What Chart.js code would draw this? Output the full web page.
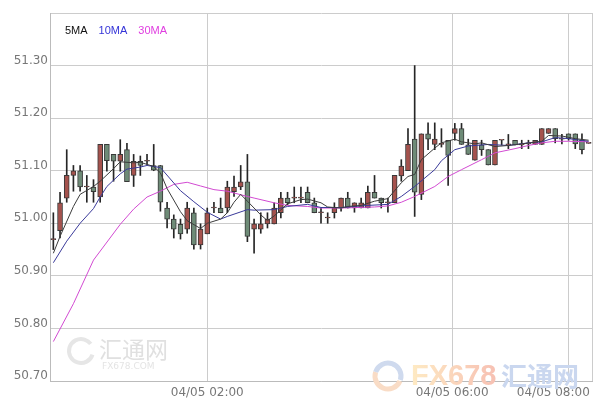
<!DOCTYPE html>
<html>
<head>
<meta charset="utf-8">
<script src="https://cdn.jsdelivr.net/npm/chart.js@4.4.1/dist/chart.umd.min.js"></script>
<style>
  html, body { margin: 0; padding: 0; background: #fff; }
  #wrap { width: 600px; height: 410px; }
</style>
</head>
<body>
<div id="wrap"><canvas id="kline"></canvas></div>
<script>
// one candle per bar, oldest first (x = bar index)
const opens = [50.969, 50.986, 51.048, 51.091, 51.100, 51.069, 51.069, 51.050, 51.150, 51.131,
  51.118, 51.140, 51.091, 51.118, 51.118, 51.110, 51.110, 51.029, 51.008, 50.998,
  50.989, 51.020, 50.959, 50.980, 51.029, 51.029, 51.029, 51.060, 51.069, 51.079,
  50.989, 50.989, 50.999, 50.999, 51.020, 51.048, 51.048, 51.048, 51.059, 51.039,
  51.020, 51.010, 51.020, 51.029, 51.048, 51.029, 51.029, 51.029, 51.059, 51.048,
  51.039, 51.039, 51.090, 51.100, 51.160, 51.055, 51.170, 51.150, 51.150, 51.158,
  51.171, 51.180, 51.149, 51.120, 51.149, 51.140, 51.111, 51.158, 51.149, 51.158,
  51.149, 51.151, 51.150, 51.150, 51.171, 51.180, 51.160, 51.170, 51.170, 51.158,
  51.152];
const highs = [51.020, 51.059, 51.140, 51.110, 51.110, 51.091, 51.083, 51.150, 51.150, 51.131,
  51.159, 51.152, 51.131, 51.128, 51.131, 51.150, 51.110, 51.040, 51.016, 51.008,
  51.040, 51.029, 50.999, 51.029, 51.040, 51.048, 51.080, 51.090, 51.110, 51.131,
  51.008, 51.020, 51.020, 51.039, 51.059, 51.059, 51.069, 51.069, 51.069, 51.048,
  51.029, 51.020, 51.039, 51.048, 51.059, 51.039, 51.048, 51.071, 51.091, 51.048,
  51.048, 51.091, 51.121, 51.180, 51.300, 51.170, 51.191, 51.191, 51.180, 51.158,
  51.190, 51.190, 51.160, 51.158, 51.158, 51.140, 51.158, 51.158, 51.169, 51.158,
  51.158, 51.158, 51.158, 51.180, 51.180, 51.180, 51.169, 51.170, 51.170, 51.170,
  51.152];
const lows = [50.950, 50.972, 51.040, 51.061, 51.061, 51.040, 51.040, 51.040, 51.099, 51.080,
  51.099, 51.079, 51.070, 51.091, 51.112, 51.100, 51.023, 50.991, 50.972, 50.970,
  50.981, 50.951, 50.951, 50.980, 51.020, 51.020, 51.020, 51.051, 51.064, 50.965,
  50.943, 50.981, 50.991, 50.999, 51.010, 51.035, 51.039, 51.039, 51.039, 51.020,
  51.000, 51.000, 51.010, 51.023, 51.029, 51.021, 51.029, 51.029, 51.048, 51.029,
  51.021, 51.039, 51.080, 51.100, 51.013, 51.045, 51.140, 51.140, 51.145, 51.072,
  51.158, 51.150, 51.131, 51.120, 51.129, 51.111, 51.111, 51.149, 51.142, 51.149,
  51.142, 51.142, 51.150, 51.150, 51.171, 51.153, 51.151, 51.158, 51.142, 51.132,
  51.152];
const closes = [50.969, 51.039, 51.091, 51.100, 51.069, 51.069, 51.060, 51.150, 51.119, 51.118,
  51.131, 51.079, 51.118, 51.110, 51.118, 51.101, 51.040, 51.008, 50.989, 50.980,
  51.029, 50.959, 50.989, 51.020, 51.029, 51.020, 51.069, 51.069, 51.079, 50.975,
  50.999, 50.999, 51.008, 51.029, 51.048, 51.039, 51.048, 51.048, 51.039, 51.020,
  51.020, 51.010, 51.029, 51.048, 51.029, 51.039, 51.039, 51.059, 51.048, 51.039,
  51.039, 51.091, 51.109, 51.150, 51.059, 51.170, 51.160, 51.160, 51.150, 51.129,
  51.180, 51.150, 51.131, 51.158, 51.140, 51.111, 51.158, 51.158, 51.149, 51.149,
  51.149, 51.151, 51.158, 51.180, 51.180, 51.161, 51.160, 51.161, 51.151, 51.140,
  51.152];

// moving averages: [bar index, value]
const ma5 = [[0, 50.943], [1, 50.975], [3, 51.032], [4, 51.055], [6, 51.070], [7, 51.080], [9, 51.104],
  [10, 51.117], [12, 51.115], [13, 51.116], [14, 51.112], [15, 51.108], [16, 51.096], [17, 51.066],
  [19, 51.022], [20, 51.005], [22, 50.990], [23, 51.000], [25, 51.008], [26, 51.020], [27, 51.040],
  [28, 51.055], [29, 51.042], [31, 51.016], [32, 51.005], [33, 51.014], [35, 51.037], [37, 51.045],
  [38, 51.046], [40, 51.039], [41, 51.031], [43, 51.029], [44, 51.032], [46, 51.034], [48, 51.042],
  [50, 51.047], [52, 51.077], [53, 51.089], [54, 51.093], [55, 51.121], [56, 51.132], [57, 51.143],
  [58, 51.153], [60, 51.160], [61, 51.155], [63, 51.151], [64, 51.153], [66, 51.146], [68, 51.148],
  [70, 51.151], [73, 51.156], [74, 51.167], [76, 51.166], [78, 51.161], [80, 51.158]];
const ma10 = [[0, 50.925], [2, 50.966], [4, 51.000], [6, 51.028], [7, 51.050], [8, 51.070], [10, 51.094],
  [11, 51.103], [13, 51.107], [14, 51.110], [16, 51.106], [19, 51.062], [21, 51.041], [23, 51.021],
  [25, 51.008], [26, 51.013], [29, 51.026], [30, 51.025], [33, 51.026], [35, 51.032], [38, 51.036],
  [40, 51.030], [43, 51.030], [47, 51.034], [50, 51.036], [52, 51.051], [54, 51.070], [57, 51.102],
  [58, 51.119], [60, 51.140], [62, 51.147], [65, 51.150], [68, 51.148], [71, 51.153], [73, 51.155],
  [75, 51.163], [77, 51.161], [80, 51.156]];
const ma30 = [[0, 50.775], [3, 50.847], [6, 50.930], [10, 50.998], [12, 51.027], [14, 51.050], [16, 51.061],
  [18, 51.074], [20, 51.078], [22, 51.071], [24, 51.064], [26, 51.061], [29, 51.051], [30, 51.048],
  [33, 51.039], [35, 51.034], [38, 51.032], [40, 51.029], [43, 51.029], [48, 51.031], [50, 51.033],
  [52, 51.040], [54, 51.051], [57, 51.070], [59, 51.089], [61, 51.102], [64, 51.121], [66, 51.134],
  [69, 51.142], [71, 51.148], [73, 51.153], [75, 51.156], [77, 51.156], [80, 51.155]];

// time ticks sit at bar positions (06:00 falls between two bars)
const tickPos = [23, 59.6, 77];
const tickLabels = ['04/05 02:00', '04/05 06:00', '04/05 08:00'];

const UP = '#a5524d';
const DOWN = '#6e8b77';
const axisFont = { family: 'DejaVu Sans', size: 12 };

// 5MA / 10MA / 30MA captions in the top-left corner of the plot
const maLegend = {
  id: 'maLegend',
  afterDraw(chart) {
    const { ctx, chartArea } = chart;
    ctx.save();
    ctx.font = '11px "Liberation Sans Narrow", "Liberation Sans", sans-serif';
    ctx.textBaseline = 'middle';
    let x = chartArea.left + 15;
    chart.data.datasets.filter((d) => d.legendColor).forEach((d) => {
      ctx.fillStyle = d.legendColor;
      ctx.fillText(d.label, x, chartArea.top + 18);
      x += ctx.measureText(d.label).width + 11;
    });
    ctx.restore();
  },
};

// faint site watermarks
const watermark = {
  id: 'watermark',
  beforeDatasetsDraw(chart) {
    const { ctx } = chart;
    ctx.save();
    ctx.lineWidth = 4;
    ctx.strokeStyle = '#e6e6e6';
    ctx.beginPath();
    ctx.arc(81, 351, 12, 0.3, Math.PI * 1.8);
    ctx.stroke();
    ctx.fillStyle = '#e0e0e0';
    ctx.font = '23px "Noto Sans CJK SC"';
    ctx.textBaseline = 'middle';
    ctx.fillText('汇通网', 99, 349);
    ctx.fillStyle = '#e4e4e4';
    ctx.font = '9px "DejaVu Sans"';
    ctx.fillText('FX678.COM', 102, 367);

    ctx.lineWidth = 5;
    ctx.strokeStyle = '#f9dcc6';
    ctx.beginPath();
    ctx.arc(388, 376, 13, 0.4, Math.PI * 1.1);
    ctx.stroke();
    ctx.strokeStyle = '#cfdaee';
    ctx.beginPath();
    ctx.arc(388, 376, 13, Math.PI * 1.1, Math.PI * 2.1);
    ctx.stroke();
    const g = ctx.createLinearGradient(410, 0, 495, 0);
    g.addColorStop(0, '#feebc4');
    g.addColorStop(1, '#f7c1b3');
    ctx.fillStyle = g;
    ctx.font = 'bold 29px "Liberation Sans Narrow", "Liberation Sans"';
    ctx.fillText('FX678', 411, 377);
    ctx.fillStyle = '#cad7ef';
    ctx.font = 'bold 26px "Noto Sans CJK SC"';
    ctx.fillText('汇通网', 501, 376);
    ctx.restore();
  },
};

const maLine = (label, pts, color, legendColor) => ({
  type: 'line',
  label,
  legendColor,
  data: pts.map(([x, y]) => ({ x, y })),
  borderColor: color,
  borderWidth: 1,
  pointRadius: 0,
  tension: 0,
  order: 0,
});

new Chart(document.getElementById('kline'), {
  type: 'bar',
  data: {
    datasets: [
      maLine('5MA', ma5, '#3c3c3c', '#111111'),
      maLine('10MA', ma10, '#3a3a9a', '#3434d8'),
      maLine('30MA', ma30, '#d24ad2', '#e03ee0'),
      {
        label: 'body',
        data: opens.map((o, i) => ({ x: i, y: [o, closes[i]] })),
        backgroundColor: opens.map((o, i) => (closes[i] >= o ? UP : DOWN)),
        borderColor: '#383838',
        borderWidth: 1,
        borderSkipped: false,
        barThickness: 5,
        minBarLength: 1,
        grouped: false,
        order: 1,
      },
      {
        label: 'wick',
        data: lows.map((l, i) => ({ x: i, y: [l, highs[i]] })),
        backgroundColor: '#262626',
        barThickness: 1,
        grouped: false,
        order: 2,
      },
    ],
  },
  options: {
    responsive: true,
    maintainAspectRatio: false,
    animation: false,
    events: [],
    layout: { padding: { top: 13, right: 8, left: 0, bottom: 0 } },
    plugins: { legend: { display: false }, tooltip: { enabled: false } },
    scales: {
      x: {
        type: 'linear',
        min: -0.5,
        max: 80.5,
        offset: false,
        afterBuildTicks: (s) => { s.ticks = tickPos.concat([80.5]).map((v) => ({ value: v })); },
        afterFit: (s) => { s.height = 29; s.paddingLeft = 0; s.paddingRight = 0; },
        grid: { color: '#cccccc', drawTicks: false, offset: false },
        border: { color: '#bbbbbb' },
        ticks: {
          autoSkip: false,
          maxRotation: 0,
          padding: 5,
          color: '#777',
          font: axisFont,
          callback: (v) => {
            const k = tickPos.indexOf(v);
            if (k < 0) return '';
            // trailing spaces pull the last label left so it stays on the canvas
            return tickLabels[k] + (k === tickLabels.length - 1 ? '        ' : '');
          },
        },
      },
      y: {
        min: 50.7,
        max: 51.4,
        afterFit: (s) => { s.width = 50; s.paddingTop = 0; s.paddingBottom = 0; },
        grid: { color: '#cccccc', drawTicks: false },
        border: { color: '#bbbbbb' },
        ticks: {
          stepSize: 0.1,
          padding: 2,
          labelOffset: -5,
          color: '#777',
          font: axisFont,
          callback: (v) => (v > 51.35 ? '' : v.toFixed(2)),
        },
      },
    },
  },
  plugins: [watermark, maLegend],
});
</script>
</body>
</html>
